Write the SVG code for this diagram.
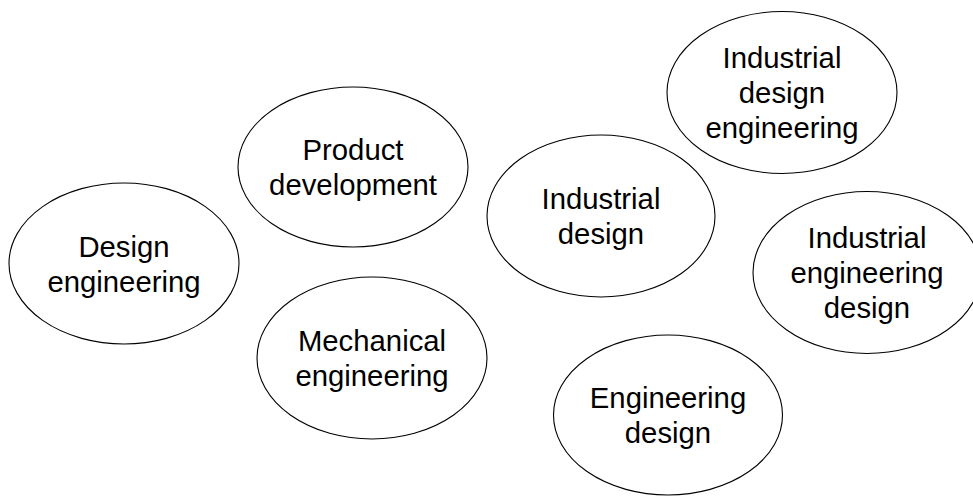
<svg xmlns="http://www.w3.org/2000/svg" width="973" height="496" viewBox="0 0 973 496">
<style>
  .shape { fill: #ffffff; stroke: #000000; stroke-width: 1.1; }
  .label { font-family: "Liberation Sans", Arial, sans-serif; font-size: 29.3px; fill: #000000; text-anchor: middle; }
</style>
<rect x="0" y="0" width="973" height="496" fill="#ffffff"/>
<g id="connectors"></g>
<g id="node-design-engineering">
  <ellipse class="shape" cx="124" cy="263.5" rx="115" ry="80.5"/>
  <text class="label" x="124" y="256.5">Design</text>
  <text class="label" x="124" y="291.5">engineering</text>
</g>
<g id="node-product-development">
  <ellipse class="shape" cx="353" cy="167" rx="115" ry="80"/>
  <text class="label" x="353" y="160">Product</text>
  <text class="label" x="353" y="195">development</text>
</g>
<g id="node-mechanical-engineering">
  <ellipse class="shape" cx="372" cy="358" rx="115" ry="81"/>
  <text class="label" x="372" y="351">Mechanical</text>
  <text class="label" x="372" y="386">engineering</text>
</g>
<g id="node-industrial-design">
  <ellipse class="shape" cx="601" cy="216" rx="114" ry="81"/>
  <text class="label" x="601" y="209">Industrial</text>
  <text class="label" x="601" y="244">design</text>
</g>
<g id="node-industrial-design-engineering">
  <ellipse class="shape" cx="782" cy="92.5" rx="115" ry="81"/>
  <text class="label" x="782" y="68">Industrial</text>
  <text class="label" x="782" y="103">design</text>
  <text class="label" x="782" y="138">engineering</text>
</g>
<g id="node-industrial-engineering-design">
  <ellipse class="shape" cx="867" cy="272.5" rx="114" ry="81"/>
  <text class="label" x="867" y="248">Industrial</text>
  <text class="label" x="867" y="283">engineering</text>
  <text class="label" x="867" y="318">design</text>
</g>
<g id="node-engineering-design">
  <ellipse class="shape" cx="668" cy="415" rx="114.5" ry="80"/>
  <text class="label" x="668" y="408">Engineering</text>
  <text class="label" x="668" y="443">design</text>
</g>
</svg>
